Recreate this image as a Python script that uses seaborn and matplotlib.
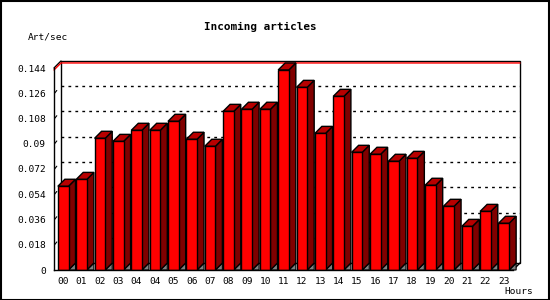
import numpy as np
import matplotlib
matplotlib.use("Agg")
import matplotlib.pyplot as plt
import seaborn as sns
from matplotlib.patches import Polygon, Rectangle

hours = ["00", "01", "02", "03", "04", "04", "05", "06", "07", "08", "09", "10",
         "11", "12", "13", "14", "15", "16", "17", "18", "19", "20", "21", "22", "23"]
rates = [0.0597, 0.0646, 0.0939, 0.0917, 0.0996, 0.0996, 0.1060, 0.0932, 0.0882,
         0.1131, 0.1146, 0.1146, 0.1426, 0.1302, 0.0974, 0.1238, 0.0839, 0.0825,
         0.0775, 0.0796, 0.0604, 0.0454, 0.0311, 0.0418, 0.0333]
yticks = [0, 0.018, 0.036, 0.054, 0.072, 0.09, 0.108, 0.126, 0.144]
ytick_labels = ["0", "0.018", "0.036", "0.054", "0.072", "0.09", "0.108", "0.126", "0.144"]

sns.set_style("white")
plt.rcParams["font.family"] = ["DejaVu Sans Mono"]
plt.rcParams["text.color"] = "black"
plt.rcParams["xtick.color"] = "black"
plt.rcParams["ytick.color"] = "black"
plt.rcParams["xtick.labelcolor"] = "black"
plt.rcParams["ytick.labelcolor"] = "black"

W, H = 550, 300
fig = plt.figure(figsize=(5.5, 3.0), dpi=100)
fig.patch.set_facecolor("white")
fig.patches.append(Rectangle((0.5 / W, 0.5 / H), (W - 1.5) / W, (H - 1.5) / H,
                             transform=fig.transFigure, fill=False,
                             edgecolor="black", linewidth=1.5))

L, R, T, B = 54, 513, 68, 270
ax = fig.add_axes([L / W, (H - B) / H, (R - L) / W, (B - T) / H])
n = len(rates)
ax.set_xlim(-0.5, n - 0.5)
ax.set_ylim(0, yticks[-1])

DX, DY = 7, 7  # depth in pixels


def off(x, y, k=1.0):
    d = ax.transData.transform((x, y))
    return tuple(ax.transData.inverted().transform((d[0] + k * DX, d[1] + k * DY)))


x0, x1 = -0.5, n - 0.5
ymax = yticks[-1]
# back wall
bl, br_, tr, tl = off(x0, 0), off(x1, 0), off(x1, ymax), off(x0, ymax)
ax.add_patch(Polygon([bl, br_, tr, tl], closed=True, facecolor="white",
                     edgecolor="black", linewidth=1, clip_on=False, zorder=0.5))
# left wall diagonals
ax.plot([x0, tl[0]], [ymax, tl[1]], color="black", lw=1, clip_on=False, zorder=0.6)
ax.plot([x1, br_[0]], [0, br_[1]], color="black", lw=1, clip_on=False, zorder=0.6)
# gridlines on back wall
for yv in yticks[1:-1]:
    a, b = off(x0, yv), off(x1, yv)
    ax.plot([a[0], b[0]], [a[1], b[1]], color="black", lw=1, ls=(0, (2, 3)),
            clip_on=False, zorder=0.7)
    c = off(x0, yv, 0.4)
    ax.plot([x0 + 0.03, c[0]], [yv, c[1]], color="black", lw=0.8, clip_on=False, zorder=0.7)
# max value line
mv = max(rates)
a, b = off(x0, mv), off(x1, mv)
ax.plot([x0, a[0], b[0]], [mv, a[1], b[1]], color="#ff0000", lw=1.0,
        clip_on=False, zorder=0.8)

# front faces via seaborn
bw = 0.58
sns.barplot(x=np.arange(n), y=rates, width=bw, color="#ff0000", saturation=1,
            edgecolor="black", linewidth=1, ax=ax, zorder=3)

for i, v in enumerate(rates):
    xl, xr = i - bw / 2, i + bw / 2
    side = [(xr, 0), (xr, v), off(xr, v), off(xr, 0)]
    top = [(xl, v), (xr, v), off(xr, v), off(xl, v)]
    shadow = [(xr, 0), off(xr, 0), (off(xr, 0)[0], 0)]
    ax.add_patch(Polygon(shadow, closed=True, facecolor="#808080", edgecolor="black",
                         linewidth=0.8, clip_on=False, zorder=2))
    ax.add_patch(Polygon(side, closed=True, facecolor="#800000", edgecolor="black",
                         linewidth=1, clip_on=False, zorder=2.5))
    ax.add_patch(Polygon(top, closed=True, facecolor="#b80000", edgecolor="black",
                         linewidth=1, clip_on=False, zorder=2.5))

ax.set_xticks(np.arange(n))
ax.set_xticklabels(hours)
ax.set_xticks(np.arange(n + 1) - 0.5, minor=True)
ax.set_yticks(yticks)
ax.set_yticklabels(ytick_labels)
ax.tick_params(axis="x", which="major", length=0, pad=5, labelsize=6.8, labelcolor="black")
ax.tick_params(axis="x", which="minor", length=4, width=1, color="black", direction="out")
ax.tick_params(axis="y", which="major", length=3, width=1, color="black", pad=3,
               labelsize=6.8, direction="out", labelcolor="black")
ax.set_xlabel("")
ax.set_ylabel("")
ax.patch.set_alpha(0)
for s in ["top", "right"]:
    ax.spines[s].set_visible(False)
for s in ["left", "bottom"]:
    ax.spines[s].set_color("black")
    ax.spines[s].set_linewidth(1)
    ax.spines[s].set_zorder(4)

fig.text(260 / W, 1 - 27 / H, "Incoming articles", ha="center", va="center",
         fontsize=7.9, fontweight="bold", color="black")
fig.text(28 / W, 1 - 37 / H, "Art/sec", ha="left", va="center", fontsize=6.8, color="black")
fig.text(533 / W, 1 - 292 / H, "Hours", ha="right", va="center", fontsize=6.8, color="black")

fig.savefig("out.png", dpi=100, facecolor="white")
